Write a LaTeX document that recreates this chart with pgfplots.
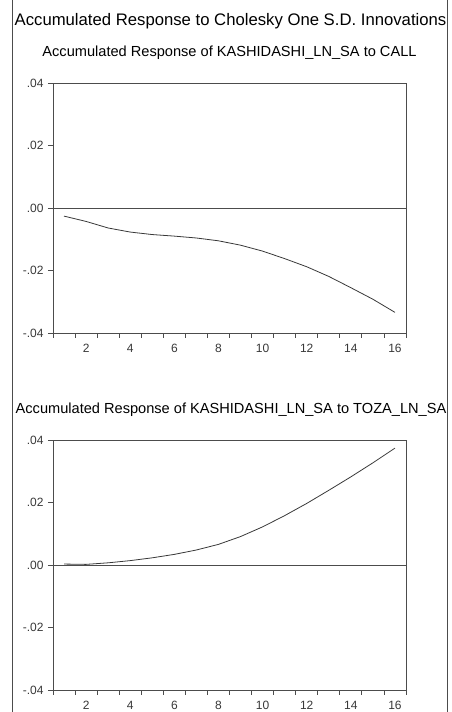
\documentclass[border=0pt]{standalone}
\usepackage{pgfplots}
\pgfplotsset{compat=1.18}
\usepackage{fontspec}
\setmainfont{Liberation Sans}
\definecolor{ink}{gray}{0.22}
\definecolor{frameline}{gray}{0.30}

\pgfplotsset{
  irfpanel/.style={
    scale only axis,
    anchor=south west,
    width=353pt, height=250pt,
    xmin=0.5, xmax=16.5,
    ymin=-0.04, ymax=0.04,
    scaled y ticks=false,
    axis line style={frameline, line width=0.8pt},
    tick style={frameline, line width=0.8pt},
    tick align=outside,
    major tick length=5pt,
    xtick pos=bottom, ytick pos=left,
    xtick={0.5,1.5,...,16.5},
    xticklabels={},
    extra x ticks={2,4,...,16},
    extra x tick labels={2,4,6,8,10,12,14,16},
    extra x tick style={major tick length=0pt, tick label style={yshift=-8pt}},
    ytick={-0.04,-0.02,0,0.02,0.04},
    yticklabels={-.04,-.02,.00,.02,.04},
    tick label style={font=\fontsize{12}{14}\selectfont, text=ink},
    yticklabel style={xshift=-1pt},
    clip=false,
  },
  irfline/.style={ink, line width=0.8pt, no marks},
}

\begin{document}
\begin{tikzpicture}[x=1pt,y=1pt]
\useasboundingbox (0,0) rectangle (452,712);

% outer frame of the graph page
\draw[frameline, line width=0.8pt] (12,0) -- (12,712);
\draw[frameline, line width=0.8pt] (447,0) -- (447,712);

\node[anchor=base, text=black, inner sep=0pt] at (230.5,686)
  {\fontsize{16.7}{19}\selectfont Accumulated Response to Cholesky One S.D. Innovations};

\node[anchor=base, text=black, inner sep=0pt] at (229.5,655)
  {\fontsize{14.6}{17}\selectfont Accumulated Response of KASHIDASHI\_LN\_SA to CALL};

\node[anchor=base, text=black, inner sep=0pt] at (231,298)
  {\fontsize{14.6}{17}\selectfont Accumulated Response of KASHIDASHI\_LN\_SA to TOZA\_LN\_SA};

% response to CALL
\begin{axis}[irfpanel, at={(53pt,379pt)}]
  \draw[frameline, line width=0.8pt] (axis cs:0.5,0) -- (axis cs:16.5,0);
  \addplot[irfline] coordinates {
    (1,-0.0026) (2,-0.0043) (3,-0.0064) (4,-0.0077) (5,-0.0085)
    (6,-0.0090) (7,-0.0096) (8,-0.0105) (9,-0.0119) (10,-0.0138)
    (11,-0.0162) (12,-0.0188) (13,-0.0219) (14,-0.0255) (15,-0.0292)
    (16,-0.0334)
  };
\end{axis}

% response to TOZA_LN_SA
\begin{axis}[irfpanel, at={(53pt,22pt)}]
  \draw[frameline, line width=0.8pt] (axis cs:0.5,0) -- (axis cs:16.5,0);
  \addplot[irfline] coordinates {
    (1,0.0003) (2,0.0002) (3,0.0007) (4,0.0014) (5,0.0023)
    (6,0.0034) (7,0.0048) (8,0.0066) (9,0.0091) (10,0.0122)
    (11,0.0158) (12,0.0197) (13,0.0239) (14,0.0282) (15,0.0327)
    (16,0.0374)
  };
\end{axis}
\end{tikzpicture}
\end{document}
